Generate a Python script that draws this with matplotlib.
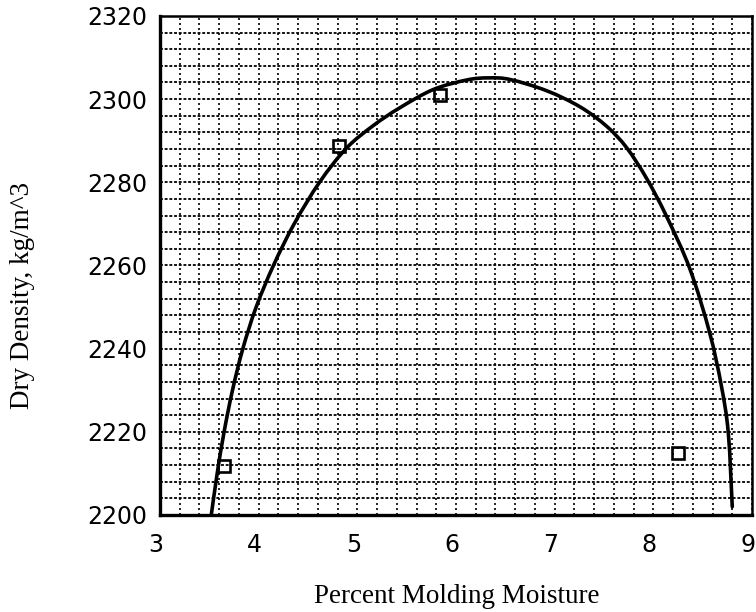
import matplotlib
matplotlib.use("Agg")
import matplotlib.pyplot as plt
import matplotlib.transforms as mtransforms
from matplotlib.path import Path
from matplotlib.patches import PathPatch
import numpy as np

# Measured compaction points
moisture = [3.65, 4.81, 5.84, 8.25]
density = [2211.7, 2288.8, 2301.0, 2214.8]

# Compaction curve
curve_moisture = [3.52, 3.58, 3.65, 3.735, 3.84, 3.975, 4.15, 4.36, 4.62, 4.89,
                  5.16, 5.43, 5.77, 6.11, 6.33, 6.55, 6.92, 7.26, 7.53, 7.73,
                  7.93, 8.13, 8.37, 8.57, 8.69, 8.76, 8.80]
curve_density = [2200.0, 2210.0, 2220.0, 2230.0, 2240.0, 2250.0, 2260.0, 2270.0,
                 2280.1, 2288.2, 2293.6, 2297.9, 2302.3, 2304.6, 2305.1, 2304.7,
                 2302.0, 2298.1, 2293.4, 2288.3, 2281.0, 2272.0, 2259.2, 2243.9,
                 2231.0, 2219.7, 2202.0]

x_ticks = [3, 4, 5, 6, 7, 8, 9]
y_ticks = [2200, 2220, 2240, 2260, 2280, 2300, 2320]

fig = plt.figure(figsize=(7.56, 6.12), dpi=100)
ax = fig.add_axes([0.2116, 0.1585, 0.7831, 0.8155])

ax.set_xlim(3, 9)
ax.set_ylim(2200, 2320)
ax.set_xticks(x_ticks)
ax.set_yticks(y_ticks)
ax.set_xticks(np.arange(3, 9.001, 0.2), minor=True)
ax.set_yticks(np.arange(2200, 2320.1, 4), minor=True)

ax.grid(True, which="both", axis="x", color="black", linestyle=(0, (1.2, 1.8)), linewidth=1.2)
ax.grid(True, which="both", axis="y", color="black", linestyle=(0, (1.6, 1.0)), linewidth=1.3)
ax.set_axisbelow(True)


def smooth_path(xs, ys):
    """Cubic Bezier path passing through every (x, y) pair."""
    pts = np.column_stack([xs, ys]).astype(float)
    verts = [pts[0]]
    codes = [Path.MOVETO]
    n = len(pts)
    for i in range(n - 1):
        p0 = pts[i - 1] if i > 0 else pts[i]
        p1 = pts[i]
        p2 = pts[i + 1]
        p3 = pts[i + 2] if i + 2 < n else pts[i + 1]
        verts += [p1 + (p2 - p0) / 6.0, p2 - (p3 - p1) / 6.0, p2]
        codes += [Path.CURVE4] * 3
    return Path(verts, codes)


ax.add_patch(PathPatch(smooth_path(curve_moisture, curve_density), fill=False,
                       edgecolor="black", linewidth=2.6, capstyle="round", zorder=3))
ax.plot(moisture, density, linestyle="none", marker="s", markersize=9,
        markerfacecolor="none", markeredgecolor="black", markeredgewidth=1.9, zorder=4)

ax.tick_params(which="both", length=0)
ax.tick_params(axis="y", pad=9.4)
ax.tick_params(axis="x", pad=13)
for lab in ax.get_xticklabels() + ax.get_yticklabels():
    lab.set_fontfamily("DejaVu Sans")
    lab.set_fontsize(17)
shift = mtransforms.ScaledTranslation(-4 / 100, 0, fig.dpi_scale_trans)
for lab in ax.get_xticklabels():
    lab.set_transform(lab.get_transform() + shift)

for side in ["left", "bottom"]:
    ax.spines[side].set_linewidth(2.4)
for side in ["top", "right"]:
    ax.spines[side].set_linewidth(1.8)

ax.set_xlabel("Percent Molding Moisture", family="Liberation Serif", fontsize=19.5,
              va="center")
ax.xaxis.set_label_coords(0.502, -0.164)
ax.set_ylabel("Dry Density, kg/m^3", family="Liberation Serif", fontsize=19.5,
              va="center")
ax.yaxis.set_label_coords(-0.233, 0.44)

fig.savefig("out.png", dpi=100)
